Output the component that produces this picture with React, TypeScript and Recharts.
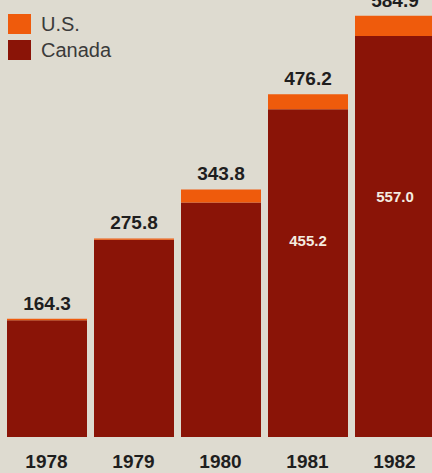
import { BarChart, Bar, XAxis, YAxis, LabelList } from "recharts";

document.body.style.margin = "0";

const years = ["1978", "1979", "1980", "1981", "1982"];
const canada = [162.3, 273.8, 325.8, 455.2, 557.0];
const us = [2.0, 2.0, 18.0, 21.0, 27.9];
const totals = [164.3, 275.8, 343.8, 476.2, 584.9];
// only the last two bars carry a value inside the Canada segment
const canadaLabels = ["", "", "", "455.2", "557.0"];

const data = years.map((year, i) => ({
  year,
  canada: canada[i],
  us: us[i],
}));

const BG = "#dedbd0";
const ORANGE = "#ef5b0c";
const DARK_RED = "#8a1407";
const FONT = "'Liberation Sans', Arial, Helvetica, sans-serif";

function LegendBox() {
  const items = [
    { name: "U.S.", color: ORANGE },
    { name: "Canada", color: DARK_RED },
  ];
  return (
    <div style={{ position: "absolute", top: 11, left: 8, fontFamily: FONT }}>
      {items.map((it) => (
        <div key={it.name} style={{ display: "flex", alignItems: "center", height: 26 }}>
          <div style={{ width: 23, height: 20, background: it.color, marginRight: 10 }} />
          <span style={{ fontSize: 20, color: "#3a3a3a" }}>{it.name}</span>
        </div>
      ))}
    </div>
  );
}

function YearTick(props: any) {
  const { x, y, payload } = props;
  return (
    <text x={x} y={y + 23} textAnchor="middle" fill="#1e1e1e" fontSize={19} fontWeight="bold" fontFamily={FONT}>
      {payload.value}
    </text>
  );
}

function TotalLabel(props: any) {
  const { x, y, width, index } = props;
  return (
    <text x={x + width / 2} y={y - 9} textAnchor="middle" fill="#1e1e1e" fontSize={19} fontWeight="bold" fontFamily={FONT}>
      {totals[index].toFixed(1)}
    </text>
  );
}

function InnerLabel(props: any) {
  const { x, y, width, height, index } = props;
  const text = canadaLabels[index];
  if (!text) return null;
  return (
    <text x={x + width / 2} y={y + height * 0.4} dy="0.36em" textAnchor="middle" fill="#f4ece0" fontSize={15} fontWeight="bold" fontFamily={FONT}>
      {text}
    </text>
  );
}

export default function App() {
  return (
    <div style={{ position: "relative", width: 432, height: 473, overflow: "hidden", background: BG }}>
      <BarChart width={440} height={473} data={data} margin={{ top: 5, right: 2, left: 3, bottom: 0 }}>
        <XAxis dataKey="year" height={36} axisLine={false} tickLine={false} tick={<YearTick />} interval={0} />
        <YAxis hide domain={[0, 600]} />
        <Bar dataKey="canada" stackId="a" fill={DARK_RED} barSize={80} isAnimationActive={false}>
          <LabelList dataKey="canada" content={<InnerLabel />} />
        </Bar>
        <Bar dataKey="us" stackId="a" fill={ORANGE} barSize={80} isAnimationActive={false}>
          <LabelList dataKey="us" content={<TotalLabel />} />
        </Bar>
      </BarChart>
      <LegendBox />
    </div>
  );
}
